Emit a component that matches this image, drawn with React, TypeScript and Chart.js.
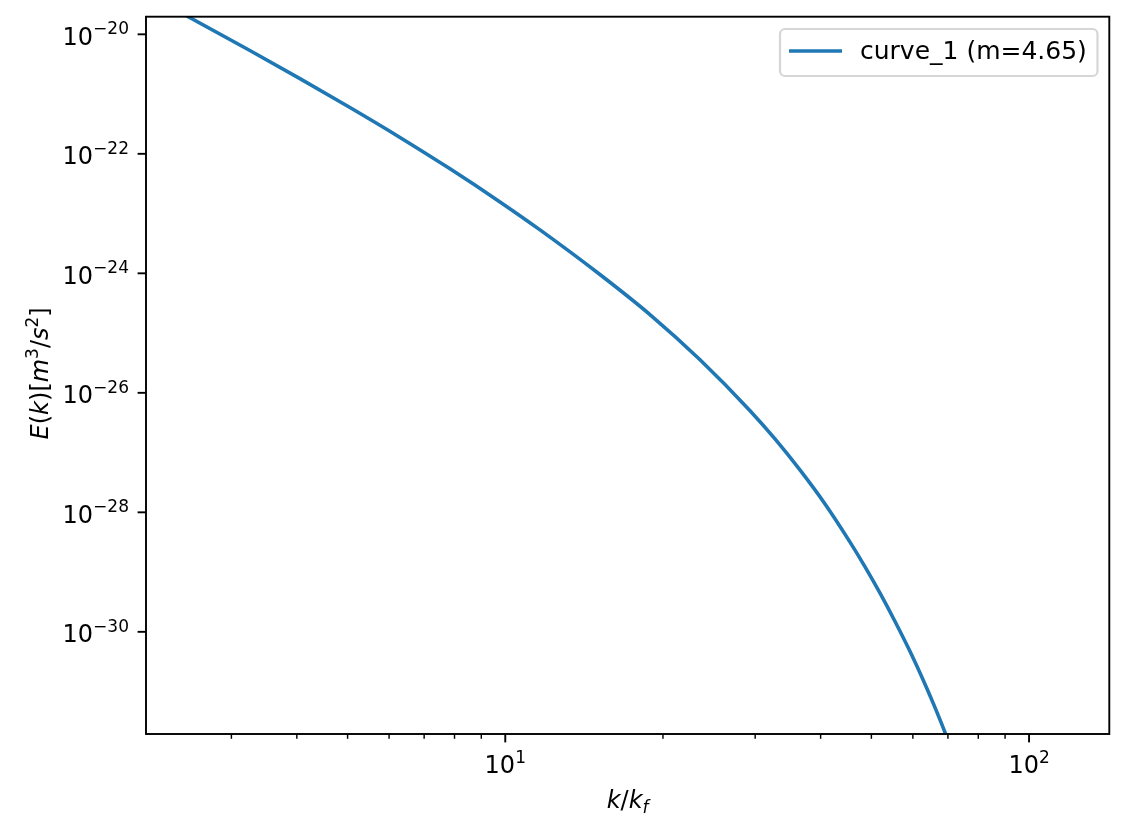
import { useEffect, useRef } from "react";
import { Chart, registerables } from "chart.js";

Chart.register(...registerables);

// ---- data ----
const kValues = [2.289, 2.481, 3.254, 4.055, 5.052, 6.295, 7.844, 9.77, 11.65, 15.16, 18.89, 23.54, 29.33, 32.73, 36.52, 40.78, 45.52, 48.63, 51.94, 55.48, 59.27, 63.3, 66.15, 69.13, 73.83];
const energyValues = [2.886e-20, 1.971e-20, 5.356e-21, 1.814e-21, 5.956e-22, 1.882e-22, 5.61e-23, 1.567e-23, 5.33e-24, 9.56e-25, 2.04e-25, 3.57e-26, 5.02e-27, 1.69e-27, 5.12e-28, 1.38e-28, 3.17e-29, 1.22e-29, 4.43e-30, 1.49e-30, 4.68e-31, 1.33e-31, 5.39e-32, 2.06e-32, 4.28e-33];
const seriesLabel = "curve_1 (m=4.65)";

const xRange = [2.061, 142.3];
const yRange = [1.95e-32, 1.972e-20];
const xMajorTicks = [10, 100];
const xMinorTicks = [3, 4, 5, 6, 7, 8, 9, 20, 30, 40, 50, 60, 70, 80, 90];
const yMajorTicks = [1e-20, 1e-22, 1e-24, 1e-26, 1e-28, 1e-30];

const FONT = "'DejaVu Sans', sans-serif";
const FS = 24;
const SUB = 17;
const LEGEND_FS = 25;
const LINE_COLOR = "#1f77b4";

type Part = { t: string; it?: boolean; sup?: boolean; sub?: boolean };

function fontFor(p: Part) {
  const size = p.sup || p.sub ? SUB : FS;
  return `${p.it ? "italic " : ""}${size}px ${FONT}`;
}

function drawMath(ctx: CanvasRenderingContext2D, parts: Part[], x: number, y: number, align: "left" | "center" | "right") {
  let total = 0;
  const widths = parts.map((p) => {
    ctx.font = fontFor(p);
    const w = ctx.measureText(p.t).width;
    total += w;
    return w;
  });
  let cx = align === "left" ? x : align === "center" ? x - total / 2 : x - total;
  ctx.textAlign = "left";
  ctx.textBaseline = "alphabetic";
  parts.forEach((p, i) => {
    ctx.font = fontFor(p);
    const dy = p.sup ? -10.5 : p.sub ? 5 : 0;
    ctx.fillText(p.t, cx, y + dy);
    cx += widths[i];
  });
}

function powerLabel(v: number): Part[] {
  const e = Math.round(Math.log10(v));
  return [{ t: "10" }, { t: String(e).replace("-", "\u2212"), sup: true }];
}

const axesPlugin = {
  id: "mplAxes",
  afterDraw(chart: any) {
    const ctx: CanvasRenderingContext2D = chart.ctx;
    const { left, right, top, bottom } = chart.chartArea;
    const xs = chart.scales.x;
    const ys = chart.scales.y;
    ctx.save();
    ctx.fillStyle = "#000";
    ctx.strokeStyle = "#000";
    // frame
    ctx.lineWidth = 1.9;
    ctx.strokeRect(left, top, right - left, bottom - top);
    // y ticks
    yMajorTicks.forEach((v) => {
      const py = ys.getPixelForValue(v);
      ctx.lineWidth = 1.9;
      ctx.beginPath();
      ctx.moveTo(left - 8.4, py);
      ctx.lineTo(left, py);
      ctx.stroke();
      drawMath(ctx, powerLabel(v), left - 17, py + 10.5, "right");
    });
    // x ticks
    xMajorTicks.forEach((v) => {
      const px = xs.getPixelForValue(v);
      ctx.lineWidth = 1.9;
      ctx.beginPath();
      ctx.moveTo(px, bottom);
      ctx.lineTo(px, bottom + 8.4);
      ctx.stroke();
      drawMath(ctx, powerLabel(v), px, bottom + 39, "center");
    });
    xMinorTicks.forEach((v) => {
      const px = xs.getPixelForValue(v);
      ctx.lineWidth = 1.45;
      ctx.beginPath();
      ctx.moveTo(px, bottom);
      ctx.lineTo(px, bottom + 4.8);
      ctx.stroke();
    });
    // x axis label
    drawMath(ctx, [{ t: "k", it: true }, { t: "/" }, { t: "k", it: true }, { t: "f", it: true, sub: true }], (left + right) / 2, bottom + 74, "center");
    // y axis label
    ctx.save();
    ctx.translate(48, (top + bottom) / 2 - 2);
    ctx.rotate(-Math.PI / 2);
    drawMath(
      ctx,
      [
        { t: "E", it: true },
        { t: "(" },
        { t: "k", it: true },
        { t: ")[" },
        { t: "m", it: true },
        { t: "3", sup: true },
        { t: "/" },
        { t: "s", it: true },
        { t: "2", sup: true },
        { t: "]" },
      ],
      0,
      0,
      "center"
    );
    ctx.restore();
    // legend
    const bx = 780, by = 29, bw = 317.5, bh = 47, r = 5;
    ctx.beginPath();
    ctx.moveTo(bx + r, by);
    ctx.lineTo(bx + bw - r, by);
    ctx.arcTo(bx + bw, by, bx + bw, by + r, r);
    ctx.lineTo(bx + bw, by + bh - r);
    ctx.arcTo(bx + bw, by + bh, bx + bw - r, by + bh, r);
    ctx.lineTo(bx + r, by + bh);
    ctx.arcTo(bx, by + bh, bx, by + bh - r, r);
    ctx.lineTo(bx, by + r);
    ctx.arcTo(bx, by, bx + r, by, r);
    ctx.closePath();
    ctx.fillStyle = "rgba(255,255,255,0.8)";
    ctx.fill();
    ctx.strokeStyle = "rgba(204,204,204,0.8)";
    ctx.lineWidth = 2.2;
    ctx.stroke();
    ctx.strokeStyle = LINE_COLOR;
    ctx.lineWidth = 3.6;
    ctx.beginPath();
    ctx.moveTo(789, by + bh / 2 - 1.5);
    ctx.lineTo(842, by + bh / 2 - 1.5);
    ctx.stroke();
    ctx.fillStyle = "#000";
    ctx.font = `${LEGEND_FS}px ${FONT}`;
    ctx.textAlign = "left";
    ctx.textBaseline = "alphabetic";
    ctx.fillText(seriesLabel, 860, 58.5);
    ctx.restore();
  },
};

export default function App() {
  const ref = useRef<HTMLCanvasElement | null>(null);
  useEffect(() => {
    if (!ref.current) return;
    const data = kValues.map((k, i) => ({ x: k, y: energyValues[i] }));
    const chart = new Chart(ref.current, {
      type: "line",
      data: {
        datasets: [
          {
            label: seriesLabel,
            data,
            borderColor: LINE_COLOR,
            backgroundColor: LINE_COLOR,
            borderWidth: 3.6,
            pointRadius: 0,
            cubicInterpolationMode: "monotone",
            fill: false,
            clip: 0,
          } as any,
        ],
      },
      options: {
        responsive: false,
        animation: false,
        devicePixelRatio: 1,
        layout: { padding: { left: 146, top: 16.7, right: 17.7, bottom: 101 } },
        plugins: { legend: { display: false }, tooltip: { enabled: false } },
        events: [],
        scales: {
          x: { type: "logarithmic", min: xRange[0], max: xRange[1], bounds: "data", display: false },
          y: { type: "logarithmic", min: yRange[0], max: yRange[1], bounds: "data", display: false },
        },
      },
      plugins: [axesPlugin],
    });
    return () => chart.destroy();
  }, []);
  return (
    <div style={{ position: "absolute", left: 0, top: 0, width: 1127, height: 835, background: "#fff" }}>
      <canvas ref={ref} width={1127} height={835} style={{ display: "block" }} />
    </div>
  );
}
